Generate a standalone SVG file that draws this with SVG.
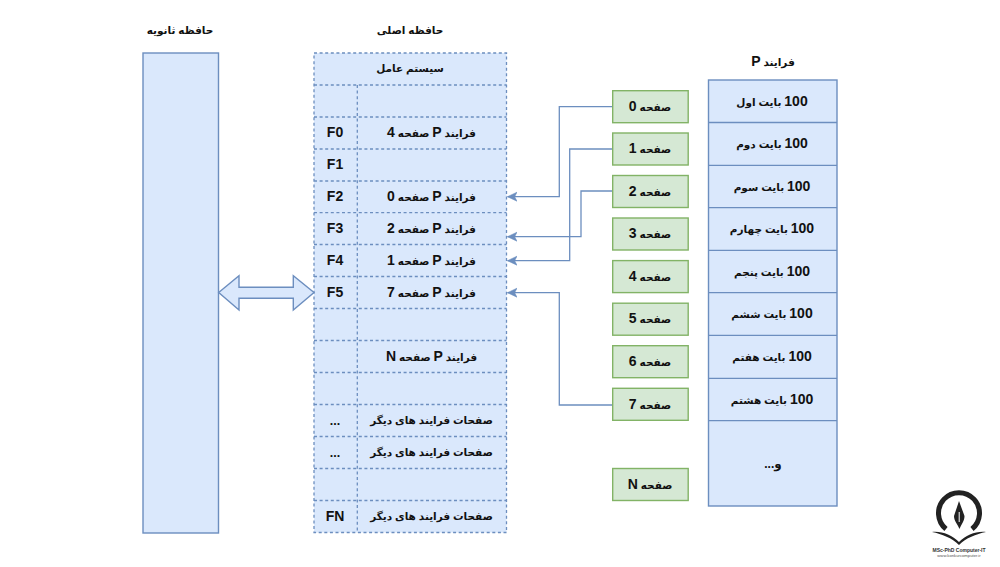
<svg xmlns="http://www.w3.org/2000/svg" width="1000" height="567" viewBox="0 0 1000 567">
<style>
text{font-family:"Liberation Sans","DejaVu Sans",sans-serif;font-weight:bold;font-size:10.5px;fill:#111;text-anchor:middle;direction:rtl;transform:translateY(-.7px)}
tspan{font-size:14px}
tspan.m{font-size:12px}
.f{direction:ltr;font-size:14px}
.f.o{font-size:12.500px}
.b{fill:#dae8fc;stroke:#6c8ebf;stroke-width:1.4}
.d{fill:none;stroke:#6c8ebf;stroke-width:1.3;stroke-dasharray:3 2.6}
.g{fill:#d5e8d4;stroke:#82b366;stroke-width:1.4}
.c{fill:none;stroke:#6c8ebf;stroke-width:1.3}
.l{fill:none;stroke:#6c8ebf;stroke-width:1.3}
</style>
<defs>
<marker id="a" markerUnits="userSpaceOnUse" markerWidth="11" markerHeight="12" refX="9.500" refY="6" orient="auto">
<path d="M0 1.500L9.500 6L0 10.500L2.400 6Z" fill="#6c8ebf" stroke="#6c8ebf" stroke-width=".6"/>
</marker>
</defs>

<g id="secondary-memory">
<text x="180" y="35">حافظه ثانویه</text>
<rect class="b" x="143" y="53" width="75.500" height="480"/>
</g>

<g id="main-memory">
<text x="410" y="35">حافظه اصلی</text>
<rect x="314" y="53" width="192.500" height="479.500" fill="#dae8fc"/>
<path class="d" d="M314 53H506.500V532.500H314ZM314 85H506.500M314 117H506.500M314 149H506.500M314 181H506.500M314 212.700H506.500M314 244.500H506.500M314 276.500H506.500M314 308.500H506.500M314 340.500H506.500M314 372.500H506.500M314 404.500H506.500M314 436.500H506.500M314 468.500H506.500M314 500.500H506.500M357.300 85V532.500"/>
<text x="410" y="73">سیستم عامل</text>
<text x="335" y="138" class="f">F0</text><text x="431.500" y="138">فرایند <tspan>P</tspan> صفحه <tspan>4</tspan></text>
<text x="335" y="170" class="f">F1</text>
<text x="335" y="202" class="f">F2</text><text x="431.500" y="202">فرایند <tspan>P</tspan> صفحه <tspan>0</tspan></text>
<text x="335" y="234" class="f">F3</text><text x="431.500" y="234">فرایند <tspan>P</tspan> صفحه <tspan>2</tspan></text>
<text x="335" y="265.500" class="f">F4</text><text x="431.500" y="265.500">فرایند <tspan>P</tspan> صفحه <tspan>1</tspan></text>
<text x="335" y="297.500" class="f">F5</text><text x="431.500" y="297.500">فرایند <tspan>P</tspan> صفحه <tspan>7</tspan></text>
<text x="431.500" y="361.500">فرایند <tspan>P</tspan> صفحه <tspan>N</tspan></text>
<text x="335" y="425.700" class="f o">...</text><text x="431.500" y="425">صفحات فرایند های دیگر</text>
<text x="335" y="457.500" class="f o">...</text><text x="431.500" y="457">صفحات فرایند های دیگر</text>
<text x="335" y="521.500" class="f">FN</text><text x="431.500" y="521">صفحات فرایند های دیگر</text>
</g>

<g id="connectors">
<path class="c" marker-end="url(#a)" d="M612.500 106.700H559.300V196.700H507.500"/>
<path class="c" marker-end="url(#a)" d="M612.500 149H569.700V260.700H507.500"/>
<path class="c" marker-end="url(#a)" d="M612.500 191H581V236.700H507.500"/>
<path class="c" marker-end="url(#a)" d="M612.500 405H559.300V292.700H507.500"/>
<path id="swap" class="b" d="M218.700 292.500L239 275.700V287.300H293.300V275.700L314 292.500L293.300 310V298.300H239V310Z"/>
</g>

<g id="pages">
<g id="page-0"><rect class="g" x="612.700" y="90.700" width="75.500" height="32"/><text x="650" y="111.700">صفحه <tspan>0</tspan></text></g>
<g id="page-1"><rect class="g" x="612.700" y="133" width="75.500" height="32"/><text x="650" y="154">صفحه <tspan>1</tspan></text></g>
<g id="page-2"><rect class="g" x="612.700" y="175.500" width="75.500" height="32"/><text x="650" y="196.500">صفحه <tspan>2</tspan></text></g>
<g id="page-3"><rect class="g" x="612.700" y="218" width="75.500" height="32"/><text x="650" y="239">صفحه <tspan>3</tspan></text></g>
<g id="page-4"><rect class="g" x="612.700" y="260.600" width="75.500" height="32"/><text x="650" y="281.600">صفحه <tspan>4</tspan></text></g>
<g id="page-5"><rect class="g" x="612.700" y="303.200" width="75.500" height="32"/><text x="650" y="324.200">صفحه <tspan>5</tspan></text></g>
<g id="page-6"><rect class="g" x="612.700" y="345.700" width="75.500" height="32"/><text x="650" y="366.700">صفحه <tspan>6</tspan></text></g>
<g id="page-7"><rect class="g" x="612.700" y="388.300" width="75.500" height="32"/><text x="650" y="409.300">صفحه <tspan>7</tspan></text></g>
<g id="page-n"><rect class="g" x="612.700" y="468.500" width="75.500" height="32"/><text x="650" y="489.500">صفحه <tspan>N</tspan></text></g>
</g>

<g id="process-p">
<text x="773" y="67">فرایند <tspan>P</tspan></text>
<rect class="b" x="708.500" y="80" width="128.500" height="426"/>
<path class="l" d="M708.500 122.500H837M708.500 165.300H837M708.500 207.700H837M708.500 250.300H837M708.500 292.700H837M708.500 335.300H837M708.500 378.300H837M708.500 420.700H837"/>
<text x="772" y="106.500"><tspan>100</tspan> بایت اول</text>
<text x="772" y="149"><tspan>100</tspan> بایت دوم</text>
<text x="772" y="191.500"><tspan>100</tspan> بایت سوم</text>
<text x="772" y="234"><tspan>100</tspan> بایت چهارم</text>
<text x="772" y="276.500"><tspan>100</tspan> بایت پنجم</text>
<text x="772" y="319"><tspan>100</tspan> بایت ششم</text>
<text x="772" y="362"><tspan>100</tspan> بایت هفتم</text>
<text x="772" y="404.500"><tspan>100</tspan> بایت هشتم</text>
<text x="773" y="468.500"><tspan class="m">و...</tspan></text>
</g>

<g id="logo">
<path d="M946 529A20.500 20.500 0 1 1 972 529" fill="none" stroke="#222" stroke-width="5"/>
<path d="M959 501L964.500 516C964.500 521 961.500 524 959.500 529C957.500 524 954 521 954 516Z" fill="#222"/>
<path d="M959.200 512V522" stroke="#fff" stroke-width="1"/>
<path d="M932 532C942 531 952 535 959 542C966 535 976 531 986 532C976 534 966 538 959 545C952 538 942 534 932 532Z" fill="#222"/>
<text x="959" y="552.500" style="font-size:5px;direction:ltr;fill:#333">MSc-PhD Computer-IT</text>
<text x="959" y="558" style="font-size:4.200px;direction:ltr;font-weight:normal;fill:#555">www.konkurcomputer.ir</text>
</g>
</svg>
